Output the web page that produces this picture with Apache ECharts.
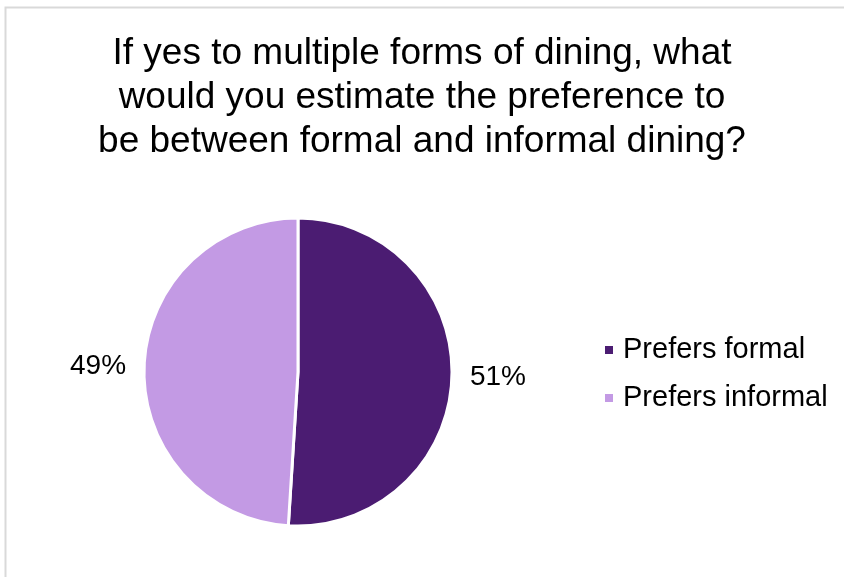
<!DOCTYPE html>
<html><head><meta charset="utf-8">
<script src="https://cdn.jsdelivr.net/npm/echarts@6/dist/echarts.min.js"></script>
<style>html,body{margin:0;padding:0;background:#fff}#c{width:844px;height:577px}</style>
</head><body><div id="c"></div>
<script>
const categories = ["Prefers formal", "Prefers informal"];
const values = [51, 49];
const colors = ["#4b1c72", "#c39ae4"];
const titleText = "If yes to multiple forms of dining, what\nwould you estimate the preference to\nbe between formal and informal dining?";

const chart = echarts.init(document.getElementById('c'));
chart.setOption({
  backgroundColor: '#fff',
  animation: false,
  graphic: [{type:'rect', shape:{x:5.5,y:7.5,width:900,height:700}, style:{fill:'none', stroke:'#d9d9d9', lineWidth:2}}],
  title: {
    text: titleText, left: 'center', top: 27,
    textStyle: {fontFamily: 'Liberation Sans', fontSize: 37, fontWeight: 'normal', color: '#000', lineHeight: 44}
  },
  legend: {
    orient: 'vertical', left: 598, top: 330, itemWidth: 10, itemHeight: 10, itemGap: 18,
    icon: 'rect',
    textStyle: {fontFamily: 'Liberation Sans', fontSize: 29, lineHeight: 30, color: '#000', padding: [0,0,0,4]}
  },
  series: [{
    type: 'pie', center: [298, 372], radius: [0, 154], startAngle: 90, clockwise: true,
    data: categories.map((c, i) => ({name: c, value: values[i], itemStyle: {color: colors[i]}})),
    itemStyle: {borderColor: '#fff', borderWidth: 3},
    label: {show: true, position: 'outside', formatter: '{d}%', fontFamily: 'Liberation Sans', fontSize: 28, color: '#000'},
    labelLine: {show: false, length: 13, length2: 0}
  }]
});
</script></body></html>
